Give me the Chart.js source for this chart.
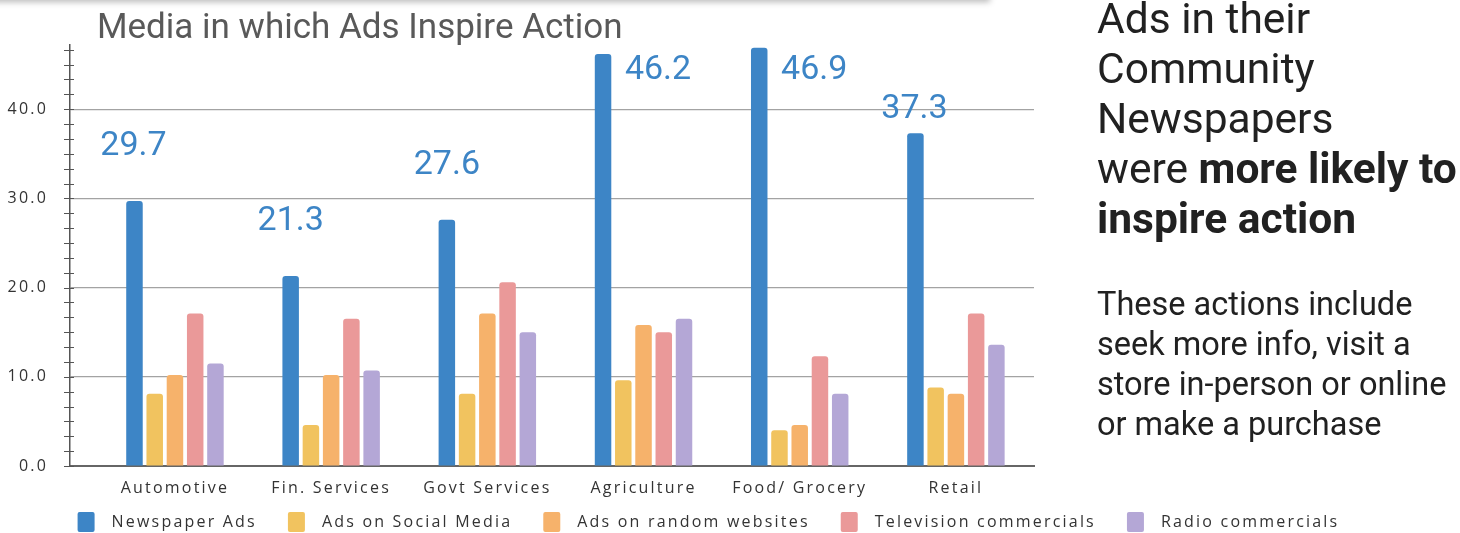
<!DOCTYPE html>
<html>
<head>
<meta charset="utf-8">
<script src="https://cdn.jsdelivr.net/npm/chart.js@4"></script>
<style>
  html, body { margin: 0; padding: 0; background: #fff; overflow: hidden; }
  #wrap { position: relative; width: 1460px; height: 533px; }
  #chartCanvas { position: absolute; left: 0; top: 0; }
  #topShadow {
    position: absolute; left: -20px; top: -20px; width: 1010px; height: 20px;
    background: #fff; box-shadow: 0 2px 6px rgba(0,0,0,0.28);
  }
  #chartTitle {
    position: absolute; left: 97px; top: 9px; margin: 0;
    font: 35px Roboto, sans-serif; line-height: 1; color: #595959; white-space: nowrap;
  }
  #headline {
    position: absolute; left: 1097px; top: -6px; margin: 0;
    font: 42.5px Roboto, sans-serif; line-height: 50px; color: #212121; white-space: nowrap;
  }
  #headline b { font-weight: 700; }
  #note {
    position: absolute; left: 1097px; top: 284px; margin: 0;
    font: 32.5px Roboto, sans-serif; line-height: 40px; color: #212121; white-space: nowrap;
  }
</style>
</head>
<body>
<div id="wrap">
  <div id="topShadow"></div>
  <canvas id="chartCanvas" width="1460" height="533"></canvas>
  <p id="chartTitle">Media in which Ads Inspire Action</p>
  <p id="headline">Ads in their<br>Community<br>Newspapers<br>were <b>more likely to</b><br><b>inspire action</b></p>
  <p id="note">These actions include<br>seek more info, visit a<br>store in-person or online<br>or make a purchase</p>
</div>
<script>
// data
const categories = ['Automotive', 'Fin. Services', 'Govt Services', 'Agriculture', 'Food/ Grocery', 'Retail'];
const seriesNames = ['Newspaper Ads', 'Ads on Social Media', 'Ads on random websites', 'Television commercials', 'Radio commercials'];
const newspaperAds = [29.7, 21.3, 27.6, 46.2, 46.9, 37.3];
const socialMediaAds = [8.1, 4.6, 8.1, 9.6, 4.0, 8.8];
const randomWebsiteAds = [10.2, 10.2, 17.1, 15.8, 4.6, 8.1];
const tvCommercials = [17.1, 16.5, 20.6, 15.0, 12.3, 17.1];
const radioCommercials = [11.5, 10.7, 15.0, 16.5, 8.1, 13.6];
const yMajorTicks = [0, 10, 20, 30, 40];

const seriesColors = ['#3d85c6', '#f1c35f', '#f6b26b', '#ea9999', '#b4a7d6'];
// where the newspaper value labels sit, relative to the top of each bar
const labelShiftX = [-1, 0, 0, 55, 55, -1];
const labelShiftY = [-55, -55, -54, 17, 23, -24];

const MINOR_PER_MAJOR = 6;
// legend swatch drawn inside the slot chart.js reserves for it
const SWATCH_OFFSET = 18, SWATCH_W = 17, SWATCH_H = 20;

function isMajor(v) {
  return yMajorTicks.some(m => Math.abs(m - v) < 1e-6);
}

document.addEventListener('DOMContentLoaded', function() {
  const allSeries = [newspaperAds, socialMediaAds, randomWebsiteAds, tvCommercials, radioCommercials];

  const datasets = allSeries.map((vals, s) => ({
    label: seriesNames[s],
    data: vals.map((v, i) => ({ x: i, y: v })),
    backgroundColor: seriesColors[s],
    borderRadius: 3,
    categoryPercentage: 0.648,
    barPercentage: 0.815
  }));

  // spaced-out axis/legend text, small tick marks, legend swatches and value labels
  const extras = {
    id: 'extras',
    beforeUpdate(chart) { chart.ctx.letterSpacing = '2.2px'; },
    beforeDraw(chart) { chart.ctx.letterSpacing = '2.2px'; },
    afterDraw(chart) {
      const ctx = chart.ctx;
      const yScale = chart.scales.y;
      const left = chart.chartArea.left;
      ctx.save();
      ctx.letterSpacing = '0px';
      ctx.strokeStyle = '#555';
      ctx.lineWidth = 1;
      yScale.ticks.forEach(t => {
        const py = Math.round(yScale.getPixelForValue(t.value)) + 0.5;
        ctx.beginPath();
        ctx.moveTo(left - 6, py);
        ctx.lineTo(left + 4, py);
        ctx.stroke();
      });

      const boxes = chart.legend.legendHitBoxes || [];
      boxes.forEach((hb, i) => {
        ctx.fillStyle = seriesColors[i];
        ctx.beginPath();
        ctx.roundRect(hb.left + SWATCH_OFFSET, hb.top, SWATCH_W, SWATCH_H, 2);
        ctx.fill();
      });

      const meta = chart.getDatasetMeta(0);
      ctx.font = '34px Roboto';
      ctx.fillStyle = seriesColors[0];
      ctx.textAlign = 'center';
      ctx.textBaseline = 'middle';
      meta.data.forEach((bar, i) => {
        ctx.fillText(newspaperAds[i].toFixed(1), bar.x + labelShiftX[i], bar.y + labelShiftY[i]);
      });
      ctx.restore();
    }
  };

  const ctx = document.getElementById('chartCanvas').getContext('2d');
  new Chart(ctx, {
    type: 'bar',
    data: { datasets: datasets },
    plugins: [extras],
    options: {
      responsive: false,
      animation: false,
      devicePixelRatio: 1,
      layout: { padding: { top: 45, right: 61, left: 0, bottom: 0 } },
      plugins: {
        tooltip: { enabled: false },
        title: { display: false },
        legend: {
          position: 'bottom',
          maxHeight: 34,
          labels: {
            boxWidth: 44,
            boxHeight: 20,
            padding: 13,
            color: '#333',
            font: { family: "'Open Sans'", size: 16 },
            generateLabels: function(chart) {
              const items = Chart.defaults.plugins.legend.labels.generateLabels(chart);
              items.forEach(it => { it.fillStyle = 'rgba(0,0,0,0)'; it.strokeStyle = 'rgba(0,0,0,0)'; it.lineWidth = 0; });
              return items;
            }
          }
        }
      },
      scales: {
        x: {
          type: 'linear',
          min: -0.672,
          max: 5.5,
          offset: false,
          afterBuildTicks: function(scale) {
            scale.ticks = categories.map((c, i) => ({ value: i }));
          },
          afterFit: function(scale) { scale.height = 33; },
          ticks: {
            autoSkip: false,
            maxRotation: 0,
            padding: 5,
            color: '#333',
            font: { family: "'Open Sans'", size: 16 },
            callback: function(v, i) { return categories[i]; }
          },
          grid: { display: false },
          border: { display: true, color: '#666', width: 2 }
        },
        y: {
          min: 0,
          max: 47.2,
          afterBuildTicks: function(scale) {
            const step = (yMajorTicks[1] - yMajorTicks[0]) / MINOR_PER_MAJOR;
            const t = [];
            for (let v = 0; v <= scale.max + 1e-6; v += step) t.push({ value: v });
            scale.ticks = t;
          },
          afterFit: function(scale) { scale.width = 70; },
          ticks: {
            autoSkip: false,
            padding: 22,
            color: '#333',
            font: { family: "'Open Sans'", size: 16 },
            callback: function(v) { return isMajor(v) ? v.toFixed(1) : ''; }
          },
          grid: {
            drawTicks: false,
            lineWidth: 1.2,
            color: function(c) {
              if (!c.tick) return 'rgba(0,0,0,0)';
              return (isMajor(c.tick.value) && c.tick.value > 0) ? '#a3a3a3' : 'rgba(0,0,0,0)';
            }
          },
          border: { display: true, color: '#555', width: 1.5 }
        },
        // empty axis that keeps the plot clear of the text on the right
        yr: {
          position: 'right',
          display: true,
          ticks: { display: false },
          grid: { display: false },
          border: { display: false },
          afterFit: function(scale) { scale.width = 365; }
        }
      }
    }
  });
});
</script>
</body>
</html>
